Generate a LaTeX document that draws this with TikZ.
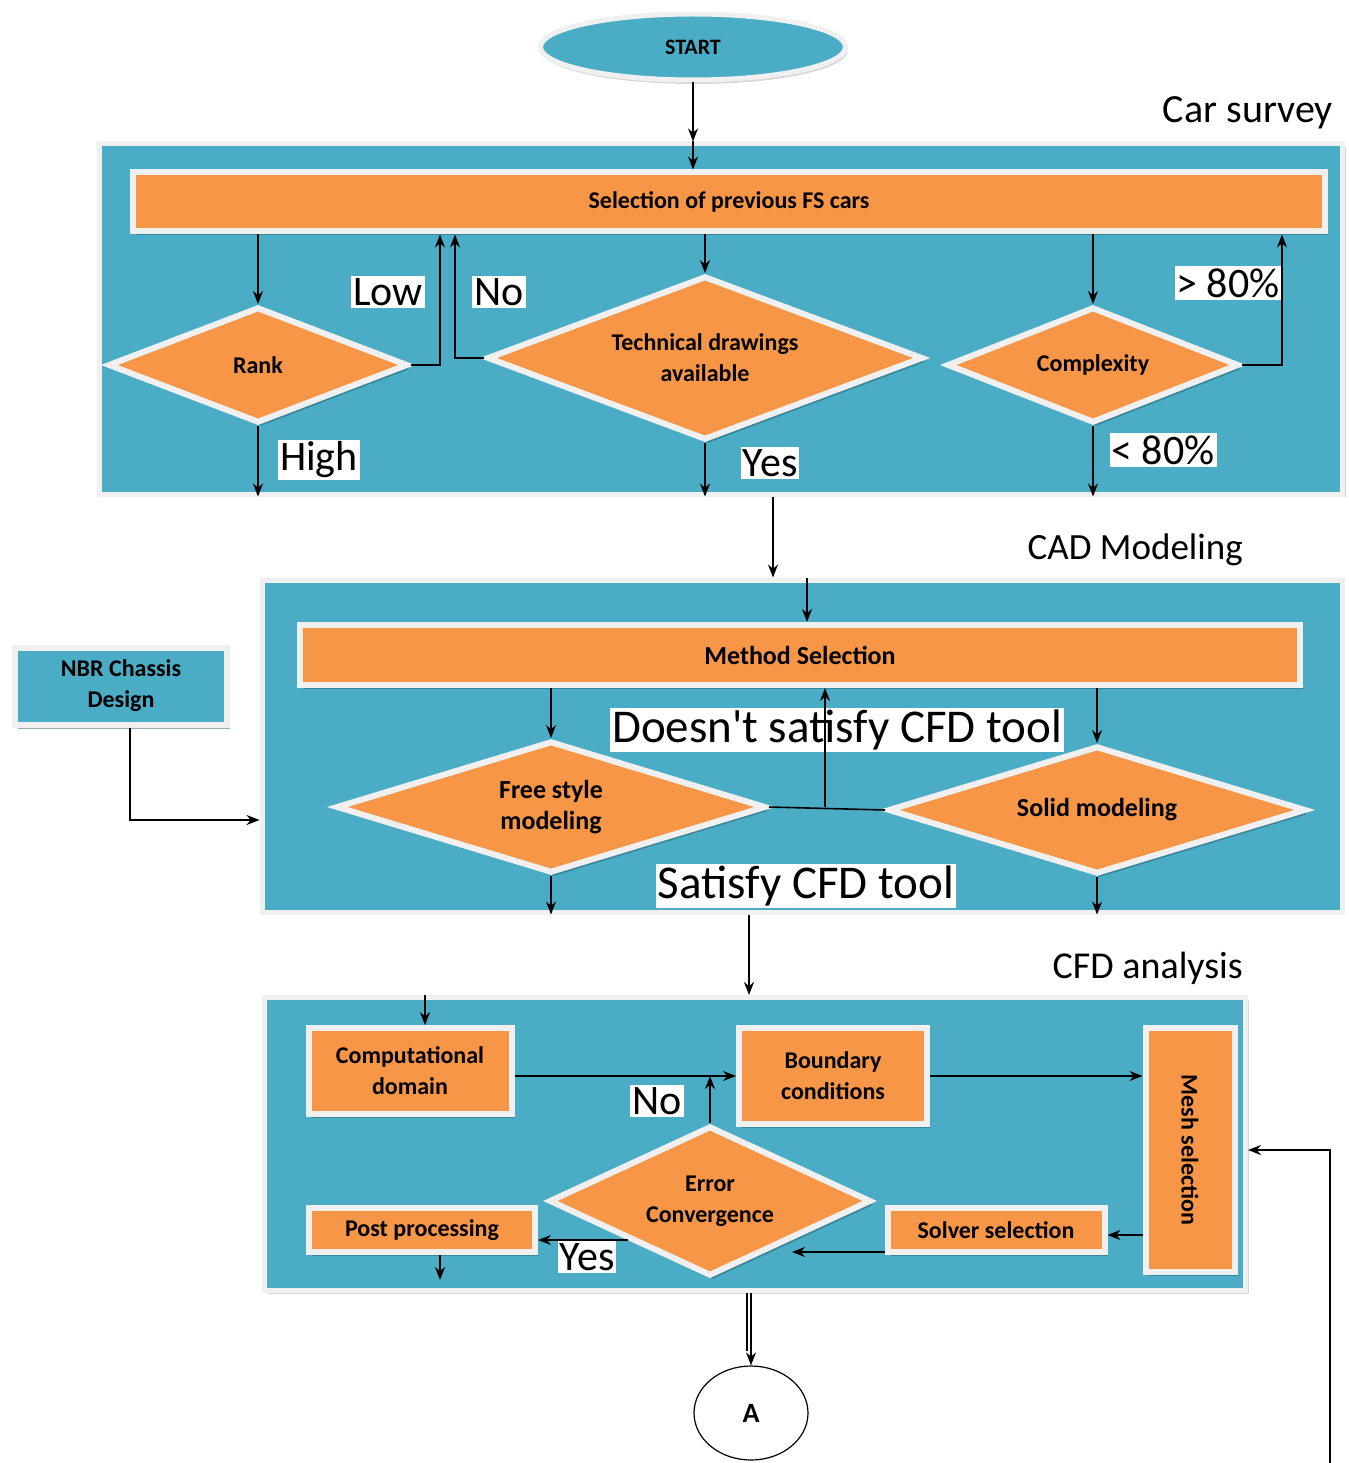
\documentclass[tikz,border=0pt]{standalone}
\usepackage{fontspec}
\setmainfont{Carlito}
\usepackage{graphicx}
\usepackage{tikz}
\usetikzlibrary{positioning, shapes.geometric, arrows.meta, shadows}
\definecolor{sky}{RGB}{75,172,198}
\definecolor{tang}{RGB}{247,150,70}
\definecolor{rim}{RGB}{240,240,240}
\tikzstyle{panel} = [rectangle, fill=sky, draw=rim, line width=5pt, drop shadow={shadow xshift=3pt, shadow yshift=-3pt, fill=black!30}]
\tikzstyle{process} = [rectangle, fill=tang, draw=rim, line width=6pt, text centered, align=center, font=\bfseries\fontsize{24}{31}\selectfont, drop shadow={shadow xshift=3pt, shadow yshift=-4pt, fill=black!45!sky}]
\tikzstyle{decision} = [diamond, fill=tang, draw=rim, line width=6pt, inner sep=0pt, text centered, align=center, font=\bfseries\fontsize{24}{31}\selectfont, drop shadow={shadow xshift=3pt, shadow yshift=-4pt, fill=black!45!sky}]
\tikzstyle{startstop} = [ellipse, fill=sky, draw=rim, line width=5pt, font=\bfseries\fontsize{22}{26}\selectfont, drop shadow={shadow xshift=2pt, shadow yshift=-4pt, fill=black!30}]
\tikzstyle{tag} = [fill=white, inner sep=2pt, font=\fontsize{42}{46}\selectfont]
\tikzstyle{title} = [anchor=east, inner sep=0pt, font=\fontsize{40}{44}\selectfont]
\tikzstyle{arrow} = [line width=1.6pt, ->, >={Stealth[length=13pt,width=10pt]}]

\begin{document}
\begin{tikzpicture}[x=1pt, y=-1pt]
	\useasboundingbox (0,0) rectangle (1348,1463);
	%定义框图区域
	\node (car) [panel, minimum width=1243pt, minimum height=350pt] at (721,319) {};
	\node (cad) [panel, minimum width=1080pt, minimum height=332pt] at (802,746) {};
	\node (cfd) [panel, minimum width=981pt, minimum height=293pt] at (755,1144) {};
	\node (cartitle) [title] at (1333,113) {Car survey};
	\node (cadtitle) [title, font=\fontsize{37}{40}\selectfont] at (1243,550) {CAD Modeling};
	\node (cfdtitle) [title, font=\fontsize{38}{40}\selectfont] at (1243,968) {CFD analysis};
	
	%定义流程图具体形状
	\node (start) [startstop, minimum width=305pt, minimum height=66pt] at (693,47) {START};
	\node (sel) [process, minimum width=1192pt, minimum height=59pt] at (729,202) {Selection of previous FS cars};
	\node (rank) [decision, aspect=2.6, minimum width=300pt, minimum height=116pt] at (258,365) {Rank};
	\node (tech) [decision, aspect=2.65, minimum width=436pt, minimum height=164pt] at (705,358) {Technical drawings\\available};
	\node (cplx) [decision, aspect=2.5, minimum width=292pt, minimum height=116pt] at (1093,365) {Complexity};
	
	\node (meth) [process, minimum width=1000pt, minimum height=60pt, font=\bfseries\fontsize{26}{31}\selectfont] at (800,655) {Method Selection};
	\node (free) [decision, aspect=3.25, minimum width=430pt, minimum height=132pt, font=\bfseries\fontsize{26}{31}\selectfont] at (551,807) {Free style\\modeling};
	\node (solid) [decision, aspect=3.25, minimum width=418pt, minimum height=128pt, font=\bfseries\fontsize{26}{31}\selectfont] at (1097,810) {Solid modeling};
	\node (nbr) [process, fill=sky, minimum width=212pt, minimum height=77pt, font=\bfseries\fontsize{24}{31}\selectfont] at (121,686) {NBR Chassis\\Design};
	
	\node (comp) [process, minimum width=203pt, minimum height=86pt] at (410,1071) {Computational\\domain};
	\node (bound) [process, minimum width=188pt, minimum height=96pt] at (833,1076) {Boundary\\conditions};
	\node (mesh) [process, minimum width=89pt, minimum height=244pt] at (1190,1150) {\rotatebox{-90}{Mesh selection}};
	\node (err) [decision, aspect=2.15, minimum width=322pt, minimum height=150pt] at (710,1201) {Error\\Convergence};
	\node (post) [process, minimum width=226pt, minimum height=44pt] at (422,1230) {Post processing};
	\node (solver) [process, minimum width=217pt, minimum height=44pt] at (996,1230) {Solver selection};
	\node (a) [ellipse, draw, line width=1.2pt, fill=white, minimum width=114pt, minimum height=94pt, font=\bfseries\fontsize{28}{30}\selectfont] at (751,1413) {A};
	
	%条件标签
	\node (low) [tag] at (388,292) {Low};
	\node (no1) [tag] at (499,292) {No};
	\node (high) [tag] at (319,460) {High};
	\node (yes1) [tag] at (770,463) {Yes};
	\node (gt) [tag] at (1228,283) {> 80\%};
	\node (lt) [tag] at (1163,450) {< 80\%};
	\node (dns) [tag, font=\fontsize{47}{50}\selectfont] at (837,730) {Doesn\textquotesingle t satisfy CFD tool};
	\node (sat) [tag, font=\fontsize{47}{50}\selectfont] at (806,886) {Satisfy CFD tool};
	\node (no2) [tag] at (657,1101) {No};
	\node (yes2) [tag] at (587,1257) {Yes};
	
	\coordinate (postout) at (440,1280);
	\coordinate (feed) at (1330,1463);
	
	%连接具体形状
	\draw [arrow](start.south) -- (start.south |- car.north);
	\draw [arrow](start.south |- car.north) -- (start.south |- sel.north);
	\draw [arrow](rank.north |- sel.south) -- (rank.north);
	\draw [arrow](rank.east) -| (440,0 |- sel.south);
	\draw [arrow](tech.west) -| (455,0 |- sel.south);
	\draw [arrow](tech.north |- sel.south) -- (tech.north);
	\draw [arrow](cplx.north |- sel.south) -- (cplx.north);
	\draw [arrow](cplx.east) -| (1282,0 |- sel.south);
	\draw [arrow](rank.south) -- (rank.south |- car.south);
	\draw [arrow](tech.south) -- (tech.south |- car.south);
	\draw [arrow](cplx.south) -- (cplx.south |- car.south);
	
	\draw [arrow](773,0 |- car.south) -- (773,0 |- cad.north);
	\draw [arrow](807,0 |- cad.north) -- (807,0 |- meth.north);
	\draw [arrow](free.north |- meth.south) -- (free.north);
	\draw [arrow](solid.north |- meth.south) -- (solid.north);
	\draw [line width=1.6pt](free.east) -- (solid.west);
	\draw [arrow](825,0 |- free.east) -- (825,0 |- meth.south);
	\draw [arrow](free.south) -- (free.south |- cad.south);
	\draw [arrow](solid.south) -- (solid.south |- cad.south);
	\draw [arrow](130,0 |- nbr.south) |- (cad.west |- 0,820);
	
	\draw [arrow](749,0 |- cad.south) -- (749,0 |- cfd.north);
	\draw [arrow](425,0 |- cfd.north) -- (425,0 |- comp.north);
	\draw [arrow](comp.east |- bound.west) -- (bound.west);
	\draw [arrow](bound.east) -- (bound.east -| mesh.west);
	\draw [arrow](err.north) -- (err.north |- bound.west);
	\draw [arrow](mesh.west |- 0,1235) -- (solver.east |- 0,1235);
	\draw [arrow](solver.west |- 0,1252) -- (err.south east |- 0,1252);
	\draw [arrow](err.south west) -- (err.south west -| post.east);
	\draw [arrow](post.south -| postout) -- (postout);
	\draw [arrow](a.north |- cfd.south) -- (a.north);
	\draw [line width=1.6pt]([xshift=-4pt]a.north |- cfd.south) -- ([xshift=-4pt,yshift=14pt]a.north);
	\draw [arrow](feed) |- (cfd.east |- 0,1150);
\end{tikzpicture}
\end{document}
